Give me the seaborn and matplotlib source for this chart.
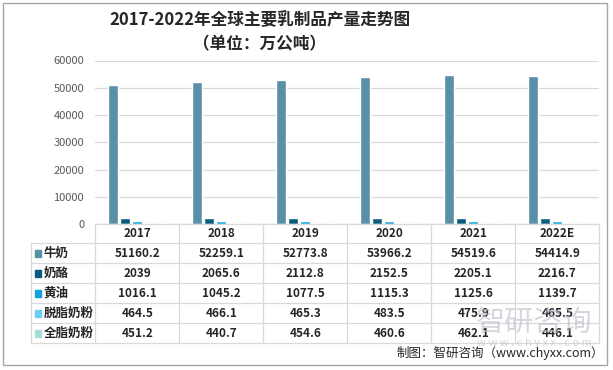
import matplotlib
matplotlib.use("Agg")
import matplotlib.pyplot as plt
import seaborn as sns
import pandas as pd
from matplotlib.patches import Rectangle
from matplotlib.lines import Line2D

YEARS = ["2017", "2018", "2019", "2020", "2021", "2022E"]
SERIES = ["牛奶", "奶酪", "黄油", "脱脂奶粉", "全脂奶粉"]
MILK = [51160.2, 52259.1, 52773.8, 53966.2, 54519.6, 54414.9]
CHEESE = [2039, 2065.6, 2112.8, 2152.5, 2205.1, 2216.7]
BUTTER = [1016.1, 1045.2, 1077.5, 1115.3, 1125.6, 1139.7]
SKIM = [464.5, 466.1, 465.3, 483.5, 475.9, 465.5]
WHOLE = [451.2, 440.7, 454.6, 460.6, 462.1, 446.1]
LABELS = ["51160.2 52259.1 52773.8 53966.2 54519.6 54414.9",
          "2039 2065.6 2112.8 2152.5 2205.1 2216.7",
          "1016.1 1045.2 1077.5 1115.3 1125.6 1139.7",
          "464.5 466.1 465.3 483.5 475.9 465.5",
          "451.2 440.7 454.6 460.6 462.1 446.1"]
COLORS = ["#5a8fa8", "#0a5b7c", "#12a2d9", "#6fcef5", "#a6dcd9"]

values = [MILK, CHEESE, BUTTER, SKIM, WHOLE]
rows = []
for name, vals in zip(SERIES, values):
    for y, v in zip(YEARS, vals):
        rows.append({"year": y, "series": name, "value": v})
df = pd.DataFrame(rows)

sns.set_theme(style="white")
plt.rcParams["font.family"] = ["Noto Sans CJK SC", "DejaVu Sans"]

W, H = 613, 370
fig = plt.figure(figsize=(W / 100, H / 100), dpi=100)

def fx(px):
    return px / W

def fy(py):
    return 1 - py / H

ax_left, ax_right, ax_top, ax_bot = 95.3, 599.3, 60.5, 224
ax = fig.add_axes([fx(ax_left), fy(ax_bot), fx(ax_right - ax_left), (ax_bot - ax_top) / H])
sns.barplot(data=df, x="year", y="value", hue="series", order=YEARS, hue_order=SERIES,
            palette=COLORS, width=0.73, gap=0.2, ax=ax, legend=False, saturation=1)
ax.set_ylim(0, 60000)
ax.set_xlim(-0.5, len(YEARS) - 0.5)
ax.set_yticks(range(0, 60001, 10000))
ax.tick_params(axis="y", labelsize=8, colors="#595959", length=0, pad=8)
ax.set_xticks([])
ax.set_xlabel("")
ax.set_ylabel("")
ax.yaxis.grid(True, color="#d9d9d9", linewidth=0.9)
ax.set_axisbelow(True)
for s in ax.spines.values():
    s.set_visible(False)

# data table under the plot
grid_c = "#d9d9d9"
tab_left = 30.7
col_w = (ax_right - ax_left) / len(YEARS)
row_y = [224, 243.3, 263.3, 283.3, 303.3, 323.3, 343.3]

def hline(x0, x1, y):
    fig.add_artist(Line2D([fx(x0), fx(x1)], [fy(y), fy(y)], color=grid_c, lw=0.9))

def vline(x, y0, y1):
    fig.add_artist(Line2D([fx(x), fx(x)], [fy(y0), fy(y1)], color=grid_c, lw=0.9))

hline(ax_left, ax_right, row_y[0])
for y in row_y[1:]:
    hline(tab_left, ax_right, y)
vline(tab_left, row_y[1], row_y[-1])
for i in range(len(YEARS) + 1):
    vline(ax_left + i * col_w, row_y[0], row_y[-1])

for i, yr in enumerate(YEARS):
    fig.text(fx(ax_left + (i + 0.5) * col_w), fy((row_y[0] + row_y[1]) / 2), yr,
             ha="center", va="center", fontsize=8.5, fontweight="bold", color="#262626")

for r, (name, lab) in enumerate(zip(SERIES, LABELS)):
    yc = (row_y[r + 1] + row_y[r + 2]) / 2
    fig.add_artist(Rectangle((fx(34.5), fy(yc + 3.3)), fx(6.6), 6.6 / H, color=COLORS[r],
                             transform=fig.transFigure))
    fig.text(fx(43.5), fy(yc), name, ha="left", va="center", fontsize=9,
             fontweight="bold", color="#262626")
    for i, t in enumerate(lab.split()):
        fig.text(fx(ax_left + (i + 0.5) * col_w), fy(yc), t, ha="center", va="center",
                 fontsize=8.5, fontweight="bold", color="#262626")

# watermark
fig.text(fx(534), fy(323), "智研咨询", ha="center", va="center", fontsize=21,
         color="#b8bec8", alpha=0.6)
fig.text(fx(534), fy(343), "w w w . c h y x x . c o m", ha="center", va="center",
         fontsize=8, color="#b8bec8", alpha=0.6)

# titles and source
fig.text(fx(260), fy(20), "2017-2022年全球主要乳制品产量走势图", ha="center", va="center",
         fontsize=12, fontweight="bold", color="#262626")
fig.text(fx(260), fy(44), "（单位：万公吨）", ha="center", va="center",
         fontsize=12, fontweight="bold", color="#262626")
fig.text(fx(604), fy(353), "制图：智研咨询（www.chyxx.com）", ha="right", va="center",
         fontsize=9, color="#262626")

fig.add_artist(Rectangle((fx(2.5), fy(365)), fx(604.5), 362 / H, fill=False,
                         edgecolor="#a6a6a6", lw=1, transform=fig.transFigure))

fig.savefig("out.png", dpi=100)
